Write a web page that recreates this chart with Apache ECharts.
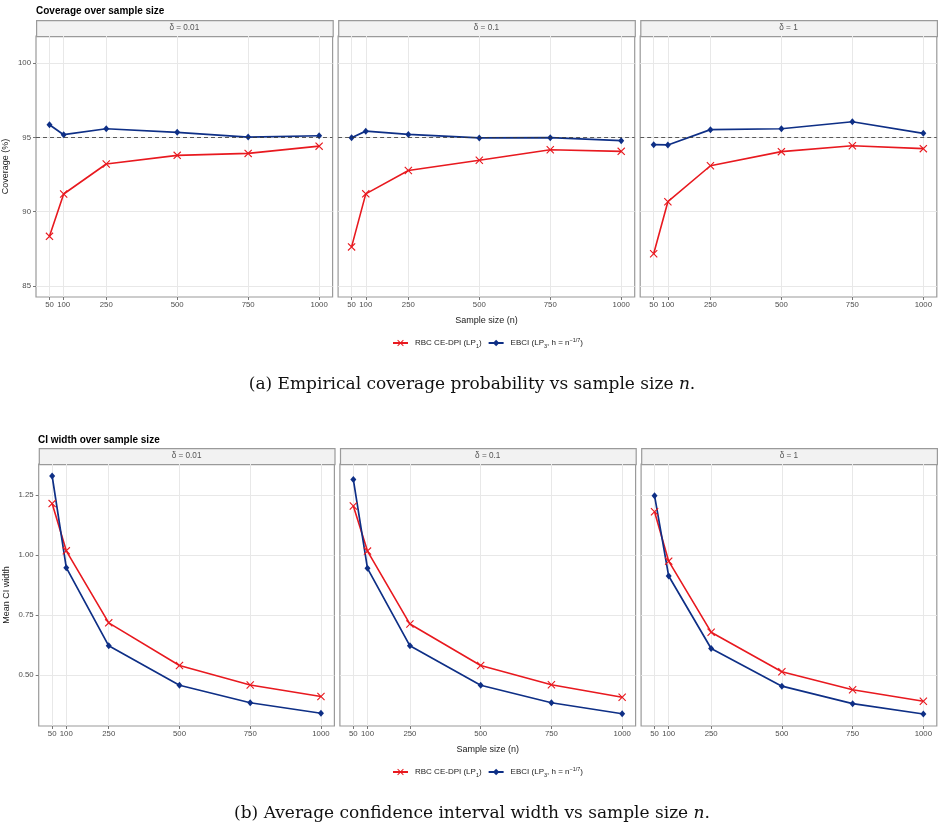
<!DOCTYPE html>
<html lang="en">
<head>
<meta charset="UTF-8">
<title>Coverage and CI width</title>
<script src="https://cdn.jsdelivr.net/npm/echarts@6/dist/echarts.min.js"></script>
<style>
  html, body { margin: 0; padding: 0; background: #fff; }
  #chart { width: 944px; height: 831px; }
</style>
</head>
<body>
<div id="chart"></div>
<script type="text/javascript">
    // data
    var sampleSizes = [50, 100, 250, 500, 750, 1000];
    var deltaLabels = ['δ = 0.01', 'δ = 0.1', 'δ = 1'];
    var coverageTicks = [85, 90, 95, 100];
    var widthTicks = [0.5, 0.75, 1.0, 1.25];
    var nominalLevel = 95;

    // one row per delta panel
    var coverageRbc = [
        [88.34, 91.19, 93.21, 93.79, 93.92, 94.41],
        [87.63, 91.20, 92.77, 93.46, 94.17, 94.06],
        [87.17, 90.67, 93.09, 94.04, 94.44, 94.24]
    ];
    var coverageEbci = [
        [95.85, 95.18, 95.58, 95.34, 95.02, 95.11],
        [94.98, 95.42, 95.20, 94.96, 94.98, 94.78],
        [94.51, 94.49, 95.52, 95.58, 96.05, 95.27]
    ];
    var widthRbc = [
        [1.214, 1.017, 0.717, 0.539, 0.458, 0.410],
        [1.204, 1.016, 0.712, 0.539, 0.459, 0.407],
        [1.180, 0.974, 0.678, 0.513, 0.438, 0.390]
    ];
    var widthEbci = [
        [1.329, 0.947, 0.621, 0.457, 0.384, 0.340],
        [1.314, 0.944, 0.621, 0.457, 0.384, 0.338],
        [1.247, 0.912, 0.610, 0.453, 0.380, 0.337]
    ];

    var RBC = 'RBC CE-DPI (LP1)';
    var EBCI = 'EBCI (LP3, h = n^-1/7)';
    var red = '#E8191F';
    var blue = '#0E2F86';
    var crossPath = 'path://M0,1L1,0L5,4L9,0L10,1L6,5L10,9L9,10L5,6L1,10L0,9L4,5Z';
    var sans = 'Liberation Sans, Arial, sans-serif';
    var labelGray = '#4d4d4d';

    var chart = echarts.init(document.getElementById('chart'));

    // panel layout
    var topLefts = [36, 338.1, 640.2], topW = 296.6, topY = 36, topH = 261;
    var botLefts = [38.7, 339.9, 641.1], botW = 295.7, botY = 464, botH = 262;

    var grids = [], xAxes = [], yAxes = [], series = [], graphics = [];

    function pairs(vals) {
        return sampleSizes.map(function (n, i) { return [n, vals[i]]; });
    }

    function addPanel(idx, left, top, w, h, yMin, yMax, yTicks, yFmt, yName, first, last, rbc, ebci, refLine) {
        grids.push({
            left: left, top: top, width: w, height: h,
            show: true, backgroundColor: '#fff', borderColor: '#9a9a9a', borderWidth: 1.2
        });
        xAxes.push({
            type: 'value', gridIndex: idx, min: 2.5, max: 1047.5,
            axisLine: { show: false },
            axisTick: { show: true, length: 3, customValues: sampleSizes, lineStyle: { color: '#777' } },
            axisLabel: {
                customValues: sampleSizes, margin: 4, fontFamily: sans, fontSize: 7.8, color: labelGray,
                formatter: function (v) { return String(v); }
            },
            splitLine: { show: true, lineStyle: { color: '#e8e8e8', width: 1 } },
            name: last ? 'Sample size (n)' : '',
            nameLocation: 'middle', nameGap: 19,
            nameTextStyle: { fontFamily: sans, fontSize: 9, color: '#1a1a1a' }
        });
        yAxes.push({
            type: 'value', gridIndex: idx, min: yMin, max: yMax,
            axisLine: { show: false },
            axisTick: { show: first, length: 3, customValues: yTicks, lineStyle: { color: '#777' } },
            axisLabel: {
                show: first, customValues: yTicks, margin: 5, fontFamily: sans, fontSize: 7.8, color: labelGray,
                formatter: yFmt
            },
            splitLine: { show: true, lineStyle: { color: '#e8e8e8', width: 1 } },
            name: first ? yName : '',
            nameLocation: 'middle', nameGap: 26,
            nameTextStyle: { fontFamily: sans, fontSize: 9, color: '#1a1a1a' }
        });
        series.push({
            name: RBC, type: 'line', xAxisIndex: idx, yAxisIndex: idx,
            data: pairs(rbc),
            symbol: crossPath, symbolSize: 8,
            lineStyle: { color: red, width: 1.6 },
            itemStyle: { color: red },
            animation: false
        });
        var s = {
            name: EBCI, type: 'line', xAxisIndex: idx, yAxisIndex: idx,
            data: pairs(ebci),
            symbol: 'diamond', symbolSize: [6, 7],
            lineStyle: { color: blue, width: 1.7 },
            itemStyle: { color: blue },
            animation: false
        };
        if (refLine) {
            s.markLine = {
                silent: true, symbol: 'none', animation: false,
                label: { show: false },
                lineStyle: { color: '#333', type: [4, 3], width: 0.8 },
                data: [{ yAxis: nominalLevel }]
            };
        }
        series.push(s);
    }

    function strip(left, top, w, label) {
        graphics.push({
            type: 'rect', left: left, top: top,
            shape: { width: w, height: 16 },
            style: { fill: '#f2f2f2', stroke: '#9a9a9a', lineWidth: 1.2 }
        });
        graphics.push({
            type: 'text', x: left + w / 2, y: top + 8,
            style: {
                text: label, fontFamily: sans, fontSize: 8.2, fill: '#555',
                align: 'center', verticalAlign: 'middle'
            }
        });
    }

    for (var i = 0; i < 3; i++) {
        addPanel(i, topLefts[i], topY, topW, topH, 84.26, 101.82, coverageTicks,
            function (v) { return String(v); }, 'Coverage (%)', i === 0, i === 1,
            coverageRbc[i], coverageEbci[i], true);
        strip(topLefts[i], 20, topW, deltaLabels[i]);
    }
    for (var j = 0; j < 3; j++) {
        addPanel(3 + j, botLefts[j], botY, botW, botH, 0.287, 1.379, widthTicks,
            function (v) { return v.toFixed(2); }, 'Mean CI width', j === 0, j === 1,
            widthRbc[j], widthEbci[j], false);
        strip(botLefts[j], 448, botW, deltaLabels[j]);
    }
    yAxes[3].nameGap = 28;

    var legendRich = {
        t: { fontFamily: sans, fontSize: 8, color: '#1a1a1a', lineHeight: 12, verticalAlign: 'middle' },
        s: { fontFamily: sans, fontSize: 5.5, color: '#1a1a1a', lineHeight: 12, verticalAlign: 'bottom' },
        p: { fontFamily: sans, fontSize: 5.5, color: '#1a1a1a', lineHeight: 12, verticalAlign: 'top' }
    };
    function legendFmt(name) {
        if (name === RBC) return '{t|RBC CE-DPI (LP}{s|1}{t|)}';
        return '{t|EBCI (LP}{s|3}{t|, h = n}{p|−1/7}{t|)}';
    }
    function legendAt(top) {
        return {
            data: [RBC, EBCI], left: 392, top: top, orient: 'horizontal',
            itemWidth: 15, itemHeight: 8, itemGap: 6, padding: 0,
            formatter: legendFmt,
            textStyle: { rich: legendRich, padding: [0, 0, 0, 2] },
            selectedMode: false
        };
    }

    var captionRich = {
        a: { fontFamily: 'DejaVu Serif', fontSize: 17, fontWeight: 'normal', color: '#111' },
        i: { fontFamily: 'DejaVu Serif', fontSize: 17, fontWeight: 'normal', fontStyle: 'italic', color: '#111' }
    };
    var headStyle = { fontFamily: sans, fontSize: 10, fontWeight: 'bold', color: '#000' };

    var option = {
        animation: false,
        backgroundColor: '#fff',
        title: [
            { text: 'Coverage over sample size', left: 36, top: 6, padding: 0, textStyle: headStyle },
            { text: 'CI width over sample size', left: 38, top: 435, padding: 0, textStyle: headStyle },
            { text: '{a|(a) Empirical coverage probability vs sample size }{i|n}{a|.}', left: 'center', top: 371,
              textStyle: { fontWeight: 'normal', rich: captionRich } },
            { text: '{a|(b) Average confidence interval width vs sample size }{i|n}{a|.}', left: 'center', top: 800,
              textStyle: { fontWeight: 'normal', rich: captionRich } }
        ],
        legend: [legendAt(337), legendAt(766)],
        grid: grids,
        xAxis: xAxes,
        yAxis: yAxes,
        series: series,
        graphic: graphics
    };

    chart.setOption(option);
</script>
</body>
</html>
